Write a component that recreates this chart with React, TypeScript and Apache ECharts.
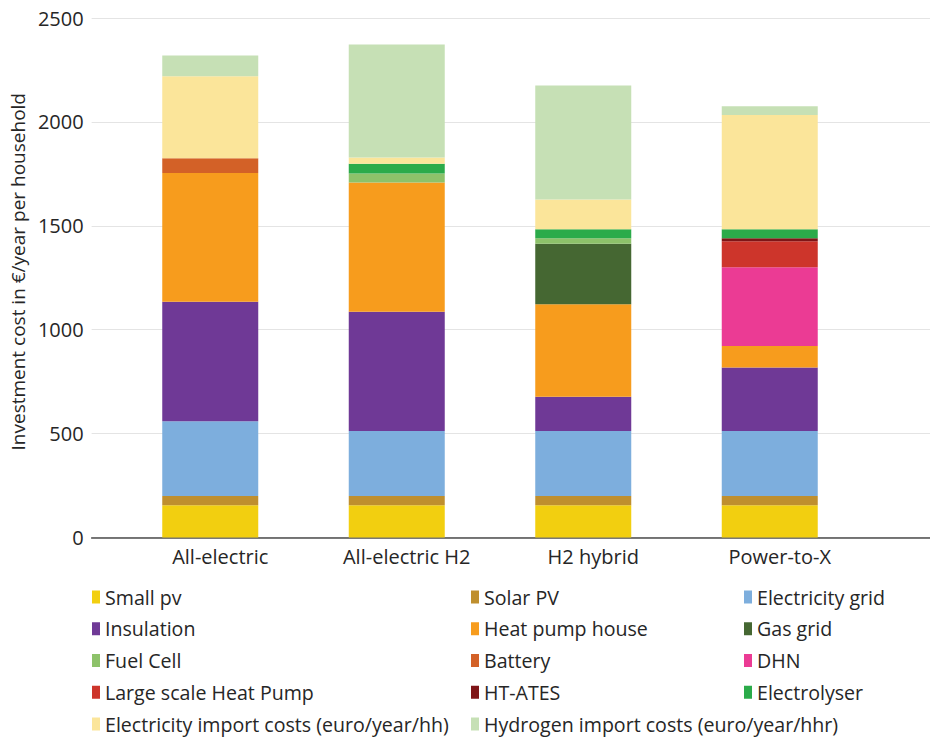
import React, { useEffect, useRef } from "react";
import * as echarts from "echarts";

const categories = ["All-electric", "All-electric H2", "H2 hybrid", "Power-to-X"];

const smallPv = [155, 155, 155, 155];
const solarPv = [45, 45, 45, 45];
const electricityGrid = [360, 312, 312, 312];
const insulation = [574, 574, 165, 306];
const heatPumpHouse = [620, 622, 446, 103];
const gasGrid = [0, 0, 291, 0];
const fuelCell = [0, 44, 26, 0];
const battery = [71, 0, 0, 0];
const dhn = [0, 0, 0, 379];
const largeHeatPump = [0, 0, 0, 126];
const htAtes = [0, 0, 0, 14];
const electrolyser = [0, 47, 43, 43];
const electricityImport = [395, 30, 144, 550];
const hydrogenImport = [100, 543, 548, 42];

const yTicks = [0, 500, 1000, 1500, 2000, 2500];

const seriesDefs = [
  { name: "Small pv", data: smallPv, color: "#F2CF10" },
  { name: "Solar PV", data: solarPv, color: "#BF8F2E" },
  { name: "Electricity grid", data: electricityGrid, color: "#7DAEDD" },
  { name: "Insulation", data: insulation, color: "#6F3996" },
  { name: "Heat pump house", data: heatPumpHouse, color: "#F79C1D" },
  { name: "Gas grid", data: gasGrid, color: "#456732" },
  { name: "Fuel Cell", data: fuelCell, color: "#8DC26A" },
  { name: "Battery", data: battery, color: "#D36127" },
  { name: "DHN", data: dhn, color: "#EB3B94" },
  { name: "Large scale Heat Pump", data: largeHeatPump, color: "#CD352B" },
  { name: "HT-ATES", data: htAtes, color: "#7F1517" },
  { name: "Electrolyser", data: electrolyser, color: "#2BAB4A" },
  { name: "Electricity import costs (euro/year/hh)", data: electricityImport, color: "#FBE59A" },
  { name: "Hydrogen import costs (euro/year/hhr)", data: hydrogenImport, color: "#C6E0B5" },
];

const legendCol1 = ["Small pv", "Insulation", "Fuel Cell", "Large scale Heat Pump", "Electricity import costs (euro/year/hh)"];
const legendCol2 = ["Solar PV", "Heat pump house", "Battery", "HT-ATES", "Hydrogen import costs (euro/year/hhr)"];
const legendCol3 = ["Electricity grid", "Gas grid", "DHN", "Electrolyser"];

const FONT = "Open Sans";
const TEXT = "#262626";

export default function App() {
  const ref = useRef<HTMLDivElement>(null);
  useEffect(() => {
    if (!ref.current) return;
    const chart = echarts.init(ref.current, undefined, { renderer: "svg" });
    const legendBase = (left: number, data: string[]) => ({
      orient: "vertical",
      left,
      top: 587,
      padding: 0,
      itemWidth: 8,
      itemHeight: 13,
      itemGap: 11.75,
      icon: "rect",
      selectedMode: false,
      data,
      textStyle: { fontFamily: FONT, fontSize: 19.6, color: TEXT, lineHeight: 20 },
    });
    chart.setOption({
      animation: false,
      backgroundColor: "#ffffff",
      textStyle: { fontFamily: FONT },
      grid: [
        { left: 117, width: 746, top: 18, height: 519.5 },
        { left: 91, right: 0, top: 18, height: 519.5 },
      ],
      legend: [legendBase(92, legendCol1), legendBase(471, legendCol2), legendBase(744, legendCol3)],
      xAxis: [
        {
          gridIndex: 0,
          type: "category",
          data: categories,
          axisLine: { show: false },
          axisTick: { show: false },
          axisLabel: {
            fontFamily: FONT,
            fontSize: 20,
            color: TEXT,
            margin: 9,
            padding: [0, 0, 0, 20],
          },
        },
        {
          gridIndex: 1,
          type: "value",
          min: 0,
          max: 1,
          axisLine: { show: true, lineStyle: { color: "#4d4d4d", width: 1.5 } },
          axisTick: { show: false },
          axisLabel: { show: false },
          splitLine: { show: false },
        },
      ],
      yAxis: [
        { gridIndex: 0, type: "value", min: 0, max: 2500, interval: 500, show: false },
        {
          gridIndex: 1,
          type: "value",
          min: yTicks[0],
          max: yTicks[yTicks.length - 1],
          interval: 500,
          axisLine: { show: false },
          axisTick: { show: false },
          axisLabel: {
            fontFamily: FONT,
            fontSize: 20,
            color: TEXT,
            margin: 8,
            formatter: (v: number) => String(v),
          },
          splitLine: { lineStyle: { color: "#e4e4e4", width: 1.2 } },
          name: "Investment cost in €/year per household",
          nameLocation: "middle",
          nameGap: 62,
          nameTextStyle: { fontFamily: FONT, fontSize: 19, color: TEXT, padding: [0, 0, 0, 12] },
        },
      ],
      series: seriesDefs.map((s) => ({
        name: s.name,
        type: "bar",
        stack: "total",
        xAxisIndex: 0,
        yAxisIndex: 0,
        barWidth: 96,
        data: s.data,
        itemStyle: { color: s.color },
      })),
    });
    return () => chart.dispose();
  }, []);
  return (
    <div
      ref={ref}
      style={{ position: "fixed", left: 0, top: 0, width: 930, height: 737, background: "#fff" }}
    />
  );
}
